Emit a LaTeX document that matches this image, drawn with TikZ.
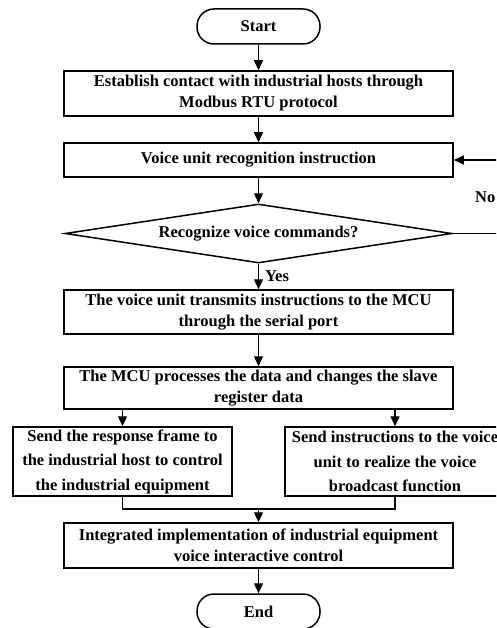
\documentclass[tikz,border=0pt]{standalone}
\usepackage{fontspec}
\setmainfont{Liberation Serif}
\usetikzlibrary{arrows.meta,shapes.geometric}
\begin{document}
\begin{tikzpicture}[x=1pt,y=-1pt,
  font=\bfseries\fontsize{16.5}{21}\selectfont,
  box/.style={draw,line width=1.5pt,align=center,inner sep=0pt,minimum width=389pt},
  term/.style={draw,line width=1.5pt,rounded corners=17pt,minimum width=123pt,minimum height=35pt,inner sep=0pt},
  dec/.style={draw,line width=1.5pt,diamond,aspect=6.5,inner sep=0pt,minimum width=387pt,minimum height=59pt},
  conn/.style={line width=1.2pt},
  arr/.style={conn,-{Triangle[length=10pt,width=9pt]}},
  lbl/.style={inner sep=0pt}]
\clip (0,0) rectangle (496,628);
\useasboundingbox (0,0) rectangle (496,628);
\node[term] (start) at (258.5,26.5) {Start};
\node[box,minimum height=45pt] (b1) at (258.5,93.5) {Establish contact with industrial hosts through\\Modbus RTU protocol};
\node[box,minimum height=34pt] (b2) at (258.5,160) {Voice unit recognition instruction};
\node[dec] (d) at (258.5,233.5) {Recognize voice commands?};
\node[box,minimum height=44pt] (b3) at (258.5,312) {The voice unit transmits instructions to the MCU\\through the serial port};
\node[box,minimum height=42pt] (b4) at (258.5,388) {The MCU processes the data and changes the slave\\register data};
\node[box,minimum width=219pt,minimum height=69pt,font=\bfseries\fontsize{16.5}{24.5}\selectfont] (b5) at (122.5,461.5) {Send the response frame to\\the industrial host to control\\the industrial equipment};
\node[box,minimum width=220pt,minimum height=69pt,font=\bfseries\fontsize{16.5}{24.5}\selectfont] (b6) at (395,461.5) {Send instructions to the voice\\unit to realize the voice\\broadcast function};
\node[box,minimum height=45pt] (b7) at (258.5,545.5) {Integrated implementation of industrial equipment\\voice interactive control};
\node[term] (end) at (258.5,611.5) {End};
\coordinate (loopA) at (510,233.5);
\coordinate (loopB) at (510,160);
\coordinate (mL) at (122.5,509);
\coordinate (mR) at (395,509);
\coordinate (mC) at (258.5,509);
\draw[arr] (start) -- (b1);
\draw[arr] (b1) -- (b2);
\draw[arr] (b2) -- (d);
\draw[arr] (d) -- node[lbl,anchor=west,xshift=6pt]{Yes} (b3);
\draw[arr] (d.east) -- (loopA) -- node[lbl,anchor=east,xshift=-14pt,pos=0.5]{No} (loopB) -- (b2.east);
\draw[arr] (b3) -- (b4);
\draw[arr] (b4.south -| b5.north) -- (b5.north);
\draw[arr] (b4.south -| b6.north) -- (b6.north);
\draw[conn] (b5.south) -- (mL) -- (mR) -- (b6.south);
\draw[arr] (mC) -- (b7.north);
\draw[arr] (b7) -- (end);
\end{tikzpicture}
\end{document}
